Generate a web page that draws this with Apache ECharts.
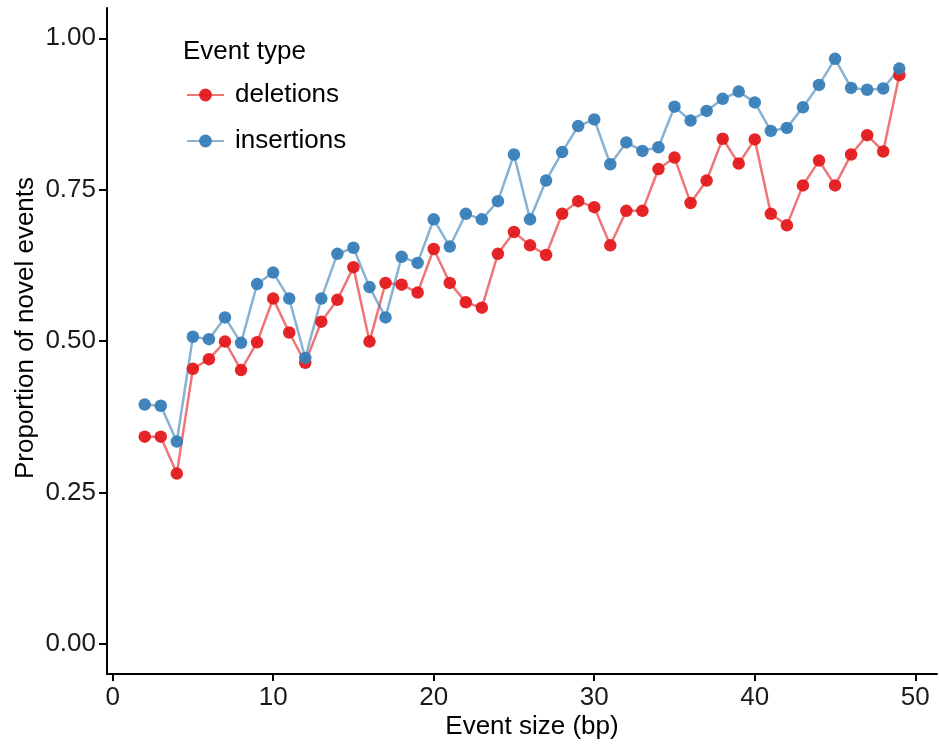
<!DOCTYPE html>
<html>
<head>
<meta charset="utf-8">
<script src="https://cdn.jsdelivr.net/npm/echarts@6/dist/echarts.min.js"></script>
<style>
  html, body { margin: 0; padding: 0; background: #fff; }
  #chart { width: 939px; height: 744px; }
</style>
</head>
<body>
<div id="chart"></div>
<script>
// event sizes in bp
var eventSizes = [2,3,4,5,6,7,8,9,10,11,12,13,14,15,16,17,18,19,20,21,22,23,24,25,
  26,27,28,29,30,31,32,33,34,35,36,37,38,39,40,41,42,43,44,45,46,47,48,49];
var deletions = [0.342,0.342,0.281,0.454,0.470,0.499,0.452,0.498,0.570,0.514,0.464,0.532,
  0.568,0.622,0.499,0.596,0.593,0.580,0.652,0.596,0.564,0.555,0.644,0.680,0.658,0.642,
  0.710,0.731,0.721,0.658,0.715,0.715,0.784,0.803,0.728,0.765,0.834,0.793,0.833,0.710,
  0.691,0.757,0.798,0.757,0.808,0.840,0.813,0.939];
var insertions = [0.395,0.393,0.334,0.507,0.503,0.539,0.497,0.594,0.613,0.570,0.472,0.570,
  0.644,0.654,0.589,0.539,0.639,0.629,0.701,0.656,0.710,0.701,0.731,0.808,0.701,0.765,
  0.812,0.855,0.866,0.792,0.828,0.814,0.820,0.887,0.864,0.880,0.900,0.912,0.894,0.847,
  0.852,0.886,0.923,0.966,0.918,0.915,0.917,0.950];
var xTicks = [0, 10, 20, 30, 40, 50];
var yTicks = [0, 0.25, 0.5, 0.75, 1];

var FONT = '"Liberation Sans", Arial, sans-serif';

function pairs(vals) {
  return eventSizes.map(function (x, i) { return [x, vals[i]]; });
}

var chart = echarts.init(document.getElementById('chart'));
chart.setOption({
  animation: false,
  textStyle: { fontFamily: FONT },
  grid: { left: 107, right: 2, top: 8, bottom: 70, containLabel: false, outerBoundsMode: 'none' },
  graphic: [{
    type: 'text', left: 183, top: 39,
    style: { text: 'Event type', font: '26px ' + FONT, fill: '#000' }
  }, {
    // axis titles
    type: 'text', x: 532, y: 727,
    style: { text: 'Event size (bp)', font: '26px ' + FONT, fill: '#000',
      align: 'center', verticalAlign: 'middle' }
  }, {
    type: 'text', x: 25.5, y: 328, rotation: Math.PI / 2,
    style: { text: 'Proportion of novel events', font: '26px ' + FONT, fill: '#000',
      align: 'center', verticalAlign: 'middle' }
  }],
  legend: {
    orient: 'vertical', left: 186, top: 82, padding: 0,
    itemWidth: 37, itemHeight: 16, itemGap: 20,
    data: ['deletions', 'insertions'],
    textStyle: { fontSize: 26, color: '#000', lineHeight: 26, padding: [0, 0, 0, 6] }
  },
  xAxis: {
    type: 'value', min: -0.35, max: 51.35,
    splitLine: { show: false },
    axisLine: { onZero: false, lineStyle: { color: '#000', width: 2 } },
    axisTick: { customValues: xTicks, length: 7, lineStyle: { color: '#000', width: 2 } },
    axisLabel: { customValues: xTicks, fontSize: 26, color: '#1a1a1a', margin: 11 }
  },
  yAxis: {
    type: 'value', min: -0.05, max: 1.05,
    splitLine: { show: false },
    axisLine: { show: true, onZero: false, lineStyle: { color: '#000', width: 2 } },
    axisTick: { show: true, customValues: yTicks, length: 8, lineStyle: { color: '#000', width: 2 } },
    axisLabel: {
      customValues: yTicks, fontSize: 26, color: '#1a1a1a', margin: 11,
      formatter: function (v) { return v.toFixed(2); }
    }
  },
  series: [{
    name: 'deletions', type: 'line', data: pairs(deletions),
    symbol: 'circle', symbolSize: 12.5, color: '#E41A1C',
    itemStyle: { color: '#E41A1C', opacity: 0.95 },
    lineStyle: { color: '#E41A1C', width: 2.5, opacity: 0.6 }
  }, {
    name: 'insertions', type: 'line', data: pairs(insertions),
    symbol: 'circle', symbolSize: 12.5, color: '#377EB8',
    itemStyle: { color: '#377EB8', opacity: 0.95 },
    lineStyle: { color: '#377EB8', width: 2.5, opacity: 0.6 }
  }]
});
</script>
</body>
</html>
